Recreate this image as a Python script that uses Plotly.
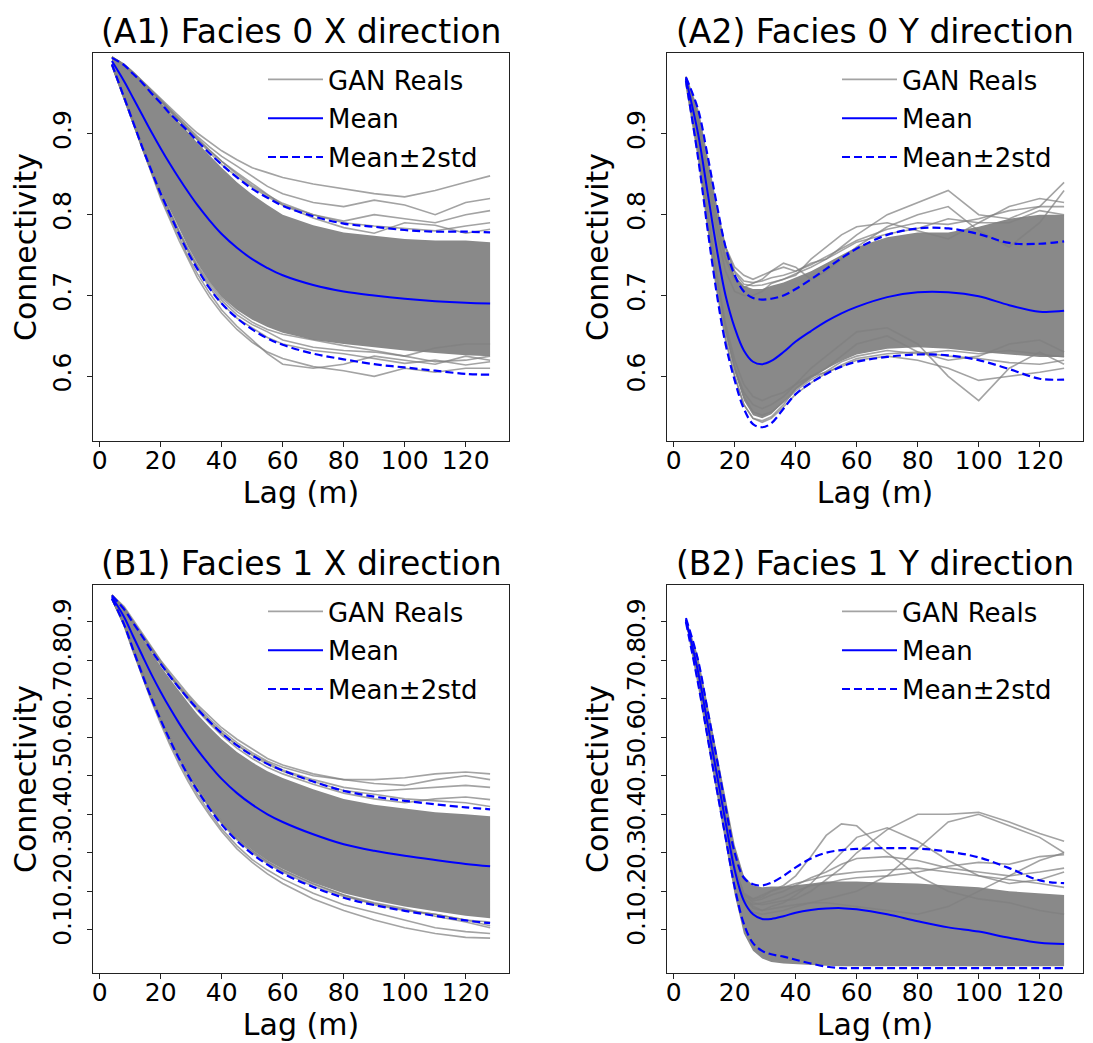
import plotly.graph_objects as go

# ---------------- data ----------------
LAGS = [4, 8, 11, 14, 17, 20, 23, 26, 29, 32, 36, 40, 45, 50, 55, 60, 70, 80, 90, 100, 110, 120, 128]

# (A1) Facies 0, X direction
A1_MEAN = [0.99, 0.965, 0.944, 0.923, 0.902, 0.882, 0.863, 0.845, 0.828, 0.812, 0.793, 0.776, 0.759, 0.745, 0.734, 0.725, 0.713, 0.705, 0.700, 0.696, 0.693, 0.691, 0.690]
A1_UPPER = [0.994, 0.985, 0.974, 0.963, 0.95, 0.938, 0.925, 0.914, 0.903, 0.891, 0.876, 0.862, 0.846, 0.832, 0.821, 0.811, 0.798, 0.789, 0.785, 0.781, 0.779, 0.779, 0.778]
A1_LOWER = [0.986, 0.945, 0.914, 0.883, 0.854, 0.826, 0.801, 0.776, 0.753, 0.733, 0.709, 0.69, 0.672, 0.658, 0.647, 0.639, 0.628, 0.621, 0.615, 0.611, 0.607, 0.603, 0.602]
A1_BAND_HI = [0.995, 0.985, 0.975, 0.963, 0.951, 0.939, 0.926, 0.914, 0.902, 0.889, 0.873, 0.858, 0.84, 0.825, 0.812, 0.80, 0.787, 0.778, 0.774, 0.77, 0.768, 0.768, 0.766]
A1_BAND_LO = [0.985, 0.946, 0.915, 0.885, 0.857, 0.83, 0.806, 0.782, 0.76, 0.74, 0.717, 0.698, 0.682, 0.67, 0.661, 0.654, 0.645, 0.64, 0.636, 0.632, 0.629, 0.626, 0.625]
A1_REALS = [
    [0.995, 0.986, 0.976, 0.965, 0.954, 0.943, 0.932, 0.921, 0.911, 0.901, 0.89, 0.879, 0.868, 0.858, 0.852, 0.846, 0.838, 0.832, 0.826, 0.822, 0.83, 0.84, 0.848],
    [0.995, 0.985, 0.975, 0.964, 0.952, 0.941, 0.93, 0.919, 0.908, 0.897, 0.884, 0.872, 0.86, 0.847, 0.835, 0.826, 0.815, 0.81, 0.818, 0.812, 0.80, 0.815, 0.82],
    [0.994, 0.985, 0.974, 0.963, 0.951, 0.94, 0.928, 0.917, 0.905, 0.893, 0.879, 0.866, 0.852, 0.838, 0.825, 0.812, 0.80, 0.792, 0.80, 0.795, 0.79, 0.80, 0.805],
    [0.985, 0.944, 0.912, 0.88, 0.85, 0.82, 0.794, 0.768, 0.745, 0.722, 0.698, 0.678, 0.658, 0.642, 0.63, 0.622, 0.612, 0.607, 0.60, 0.61, 0.605, 0.61, 0.61],
    [0.985, 0.945, 0.913, 0.882, 0.852, 0.823, 0.797, 0.772, 0.748, 0.727, 0.703, 0.682, 0.662, 0.645, 0.628, 0.615, 0.61, 0.615, 0.625, 0.62, 0.615, 0.625, 0.62],
    [0.986, 0.946, 0.915, 0.885, 0.856, 0.829, 0.804, 0.78, 0.758, 0.738, 0.716, 0.697, 0.68, 0.667, 0.658, 0.652, 0.645, 0.638, 0.632, 0.625, 0.635, 0.64, 0.64],
    [0.995, 0.986, 0.976, 0.965, 0.954, 0.942, 0.93, 0.918, 0.907, 0.895, 0.88, 0.866, 0.85, 0.836, 0.824, 0.814, 0.80, 0.79, 0.786, 0.783, 0.78, 0.786, 0.79],
    [0.995, 0.985, 0.975, 0.964, 0.952, 0.94, 0.928, 0.916, 0.904, 0.892, 0.877, 0.862, 0.847, 0.834, 0.822, 0.812, 0.796, 0.784, 0.777, 0.79, 0.787, 0.777, 0.782],
    [0.985, 0.945, 0.913, 0.882, 0.853, 0.825, 0.80, 0.776, 0.754, 0.734, 0.71, 0.69, 0.672, 0.66, 0.648, 0.64, 0.632, 0.628, 0.622, 0.616, 0.62, 0.614, 0.618],
    [0.985, 0.946, 0.914, 0.884, 0.855, 0.828, 0.803, 0.779, 0.756, 0.736, 0.713, 0.694, 0.676, 0.664, 0.655, 0.645, 0.636, 0.632, 0.63, 0.625, 0.618, 0.62, 0.625],
]

# (A2) Facies 0, Y direction
A2_MEAN = [0.968, 0.90, 0.83, 0.76, 0.70, 0.66, 0.632, 0.618, 0.615, 0.619, 0.63, 0.643, 0.656, 0.668, 0.678, 0.686, 0.698, 0.704, 0.704, 0.699, 0.688, 0.680, 0.681]
A2_UPPER = [0.97, 0.93, 0.875, 0.815, 0.76, 0.725, 0.705, 0.697, 0.695, 0.696, 0.70, 0.708, 0.72, 0.733, 0.746, 0.758, 0.775, 0.783, 0.783, 0.776, 0.765, 0.764, 0.767]
A2_LOWER = [0.966, 0.87, 0.785, 0.705, 0.64, 0.595, 0.56, 0.541, 0.537, 0.542, 0.56, 0.578, 0.592, 0.603, 0.612, 0.618, 0.624, 0.627, 0.626, 0.62, 0.609, 0.597, 0.596]
A2_BAND_HI = [0.972, 0.925, 0.865, 0.805, 0.755, 0.725, 0.712, 0.708, 0.708, 0.712, 0.716, 0.722, 0.73, 0.74, 0.75, 0.76, 0.772, 0.778, 0.778, 0.785, 0.795, 0.80, 0.80]
A2_BAND_LO = [0.962, 0.875, 0.795, 0.72, 0.655, 0.605, 0.57, 0.552, 0.548, 0.553, 0.568, 0.583, 0.597, 0.609, 0.619, 0.627, 0.634, 0.636, 0.634, 0.63, 0.627, 0.624, 0.624]
A2_REALS = [
    [0.97, 0.92, 0.86, 0.80, 0.76, 0.735, 0.725, 0.72, 0.725, 0.73, 0.735, 0.73, 0.74, 0.745, 0.76, 0.775, 0.80, 0.815, 0.83, 0.80, 0.795, 0.81, 0.84],
    [0.97, 0.915, 0.85, 0.79, 0.745, 0.72, 0.71, 0.715, 0.72, 0.73, 0.74, 0.735, 0.72, 0.73, 0.745, 0.76, 0.785, 0.80, 0.81, 0.78, 0.76, 0.79, 0.83],
    [0.968, 0.895, 0.80, 0.72, 0.655, 0.61, 0.58, 0.565, 0.56, 0.565, 0.575, 0.59, 0.61, 0.625, 0.64, 0.655, 0.66, 0.64, 0.60, 0.57, 0.61, 0.63, 0.615],
    [0.966, 0.89, 0.79, 0.71, 0.645, 0.60, 0.565, 0.548, 0.545, 0.55, 0.565, 0.585, 0.60, 0.61, 0.625, 0.64, 0.65, 0.63, 0.62, 0.625, 0.64, 0.645, 0.63],
    [0.97, 0.91, 0.84, 0.78, 0.73, 0.705, 0.70, 0.70, 0.705, 0.715, 0.72, 0.725, 0.745, 0.76, 0.775, 0.785, 0.79, 0.78, 0.77, 0.79, 0.81, 0.82, 0.815],
    [0.967, 0.90, 0.81, 0.73, 0.665, 0.62, 0.59, 0.575, 0.57, 0.575, 0.58, 0.59, 0.60, 0.605, 0.612, 0.62, 0.625, 0.62, 0.61, 0.595, 0.60, 0.605, 0.61],
    [0.971, 0.928, 0.87, 0.81, 0.76, 0.73, 0.718, 0.716, 0.718, 0.722, 0.725, 0.73, 0.738, 0.748, 0.758, 0.768, 0.782, 0.79, 0.788, 0.795, 0.805, 0.81, 0.81],
    [0.97, 0.926, 0.868, 0.808, 0.758, 0.728, 0.714, 0.712, 0.713, 0.716, 0.72, 0.727, 0.735, 0.745, 0.756, 0.766, 0.776, 0.783, 0.795, 0.79, 0.79, 0.805, 0.80],
    [0.962, 0.872, 0.79, 0.712, 0.648, 0.60, 0.565, 0.548, 0.543, 0.548, 0.562, 0.578, 0.592, 0.604, 0.614, 0.622, 0.628, 0.63, 0.625, 0.622, 0.617, 0.615, 0.62],
    [0.963, 0.876, 0.797, 0.722, 0.658, 0.61, 0.575, 0.556, 0.552, 0.556, 0.568, 0.582, 0.596, 0.606, 0.618, 0.625, 0.632, 0.628, 0.632, 0.628, 0.632, 0.628, 0.624],
]

# (B1) Facies 1, X direction
B1_MEAN = [0.965, 0.913, 0.862, 0.812, 0.763, 0.718, 0.676, 0.637, 0.601, 0.568, 0.528, 0.492, 0.455, 0.425, 0.40, 0.38, 0.348, 0.322, 0.305, 0.292, 0.281, 0.271, 0.265]
B1_UPPER = [0.969, 0.933, 0.897, 0.862, 0.825, 0.791, 0.759, 0.729, 0.701, 0.674, 0.641, 0.611, 0.579, 0.553, 0.531, 0.514, 0.485, 0.461, 0.446, 0.435, 0.426, 0.418, 0.413]
B1_LOWER = [0.961, 0.893, 0.827, 0.762, 0.701, 0.645, 0.593, 0.545, 0.501, 0.462, 0.415, 0.373, 0.331, 0.297, 0.269, 0.246, 0.211, 0.183, 0.164, 0.149, 0.136, 0.124, 0.117]
B1_BAND_HI = [0.97, 0.932, 0.895, 0.858, 0.82, 0.785, 0.752, 0.72, 0.69, 0.66, 0.626, 0.595, 0.562, 0.535, 0.512, 0.494, 0.465, 0.44, 0.425, 0.415, 0.405, 0.40, 0.395]
B1_BAND_LO = [0.96, 0.895, 0.83, 0.768, 0.708, 0.652, 0.6, 0.552, 0.508, 0.47, 0.423, 0.382, 0.34, 0.307, 0.28, 0.258, 0.222, 0.195, 0.176, 0.16, 0.148, 0.136, 0.13]
B1_REALS = [
    [0.97, 0.94, 0.905, 0.87, 0.835, 0.80, 0.77, 0.74, 0.712, 0.685, 0.655, 0.625, 0.595, 0.57, 0.545, 0.528, 0.505, 0.49, 0.49, 0.495, 0.505, 0.51, 0.505],
    [0.97, 0.937, 0.90, 0.866, 0.83, 0.796, 0.764, 0.735, 0.706, 0.68, 0.648, 0.618, 0.586, 0.56, 0.538, 0.522, 0.50, 0.49, 0.48, 0.475, 0.49, 0.50, 0.49],
    [0.969, 0.935, 0.9, 0.864, 0.828, 0.793, 0.76, 0.73, 0.70, 0.673, 0.64, 0.61, 0.58, 0.555, 0.535, 0.515, 0.49, 0.47, 0.46, 0.465, 0.47, 0.475, 0.47],
    [0.96, 0.89, 0.822, 0.755, 0.693, 0.635, 0.58, 0.53, 0.485, 0.445, 0.398, 0.355, 0.31, 0.275, 0.245, 0.22, 0.18, 0.15, 0.125, 0.105, 0.09, 0.08, 0.078],
    [0.96, 0.892, 0.825, 0.758, 0.697, 0.64, 0.587, 0.538, 0.493, 0.453, 0.405, 0.362, 0.318, 0.282, 0.255, 0.232, 0.195, 0.165, 0.145, 0.125, 0.105, 0.095, 0.09],
    [0.961, 0.895, 0.83, 0.765, 0.705, 0.648, 0.596, 0.548, 0.505, 0.466, 0.42, 0.38, 0.338, 0.305, 0.278, 0.255, 0.22, 0.19, 0.165, 0.15, 0.14, 0.125, 0.12],
    [0.97, 0.934, 0.898, 0.862, 0.826, 0.792, 0.76, 0.73, 0.702, 0.675, 0.642, 0.612, 0.58, 0.553, 0.53, 0.512, 0.485, 0.462, 0.452, 0.44, 0.435, 0.43, 0.42],
    [0.97, 0.933, 0.897, 0.861, 0.824, 0.79, 0.758, 0.727, 0.698, 0.67, 0.636, 0.605, 0.572, 0.545, 0.522, 0.505, 0.478, 0.455, 0.44, 0.43, 0.44, 0.445, 0.438],
    [0.96, 0.893, 0.828, 0.764, 0.703, 0.646, 0.594, 0.546, 0.502, 0.463, 0.417, 0.376, 0.334, 0.30, 0.272, 0.25, 0.213, 0.186, 0.168, 0.152, 0.14, 0.125, 0.11],
    [0.96, 0.894, 0.829, 0.766, 0.706, 0.65, 0.598, 0.55, 0.506, 0.468, 0.421, 0.38, 0.338, 0.304, 0.276, 0.254, 0.218, 0.19, 0.17, 0.155, 0.135, 0.12, 0.105],
]

# (B2) Facies 1, Y direction
B2_MEAN = [0.905, 0.77, 0.64, 0.51, 0.38, 0.255, 0.175, 0.14, 0.128, 0.128, 0.135, 0.144, 0.151, 0.155, 0.156, 0.153, 0.14, 0.122, 0.106, 0.095, 0.079, 0.066, 0.063]
B2_UPPER = [0.91, 0.80, 0.675, 0.55, 0.42, 0.30, 0.235, 0.218, 0.215, 0.222, 0.24, 0.262, 0.285, 0.30, 0.307, 0.31, 0.312, 0.311, 0.303, 0.288, 0.26, 0.228, 0.221]
B2_LOWER = [0.90, 0.74, 0.605, 0.47, 0.34, 0.21, 0.115, 0.065, 0.045, 0.036, 0.03, 0.022, 0.012, 0.004, 0.0, 0.0, 0.0, 0.0, 0.0, 0.0, 0.0, 0.0, 0.0]
B2_BAND_HI = [0.912, 0.81, 0.69, 0.565, 0.44, 0.32, 0.24, 0.215, 0.21, 0.212, 0.212, 0.215, 0.22, 0.225, 0.225, 0.225, 0.222, 0.22, 0.215, 0.21, 0.20, 0.195, 0.19]
B2_BAND_LO = [0.895, 0.73, 0.59, 0.455, 0.325, 0.19, 0.09, 0.045, 0.025, 0.016, 0.012, 0.01, 0.008, 0.006, 0.005, 0.005, 0.005, 0.005, 0.005, 0.005, 0.005, 0.005, 0.005]
B2_REALS = [
    [0.905, 0.775, 0.645, 0.515, 0.385, 0.26, 0.195, 0.18, 0.19, 0.2, 0.215, 0.24, 0.29, 0.345, 0.375, 0.37, 0.30, 0.24, 0.2, 0.18, 0.17, 0.15, 0.14],
    [0.905, 0.775, 0.645, 0.515, 0.385, 0.26, 0.19, 0.17, 0.165, 0.17, 0.175, 0.18, 0.2, 0.23, 0.26, 0.30, 0.36, 0.40, 0.40, 0.405, 0.38, 0.35, 0.33],
    [0.905, 0.775, 0.645, 0.515, 0.385, 0.26, 0.185, 0.16, 0.15, 0.16, 0.17, 0.19, 0.22, 0.26, 0.30, 0.34, 0.365, 0.33, 0.28, 0.24, 0.22, 0.23, 0.25],
    [0.905, 0.775, 0.645, 0.515, 0.385, 0.255, 0.18, 0.155, 0.15, 0.155, 0.16, 0.165, 0.17, 0.18, 0.19, 0.2, 0.24, 0.31, 0.38, 0.40, 0.37, 0.34, 0.30],
    [0.905, 0.775, 0.645, 0.515, 0.385, 0.255, 0.17, 0.145, 0.14, 0.145, 0.15, 0.16, 0.17, 0.17, 0.165, 0.16, 0.15, 0.14, 0.16, 0.2, 0.24, 0.28, 0.30],
    [0.905, 0.775, 0.645, 0.515, 0.385, 0.26, 0.19, 0.175, 0.18, 0.19, 0.2, 0.215, 0.235, 0.25, 0.27, 0.285, 0.29, 0.28, 0.26, 0.25, 0.24, 0.25, 0.26],
    [0.905, 0.775, 0.645, 0.515, 0.385, 0.255, 0.19, 0.18, 0.185, 0.2, 0.21, 0.22, 0.23, 0.24, 0.245, 0.25, 0.255, 0.26, 0.25, 0.24, 0.23, 0.22, 0.21],
    [0.905, 0.775, 0.645, 0.515, 0.385, 0.255, 0.18, 0.165, 0.17, 0.175, 0.185, 0.2, 0.215, 0.22, 0.23, 0.235, 0.24, 0.25, 0.265, 0.275, 0.27, 0.29, 0.295],
]

TITLES = ["(A1) Facies 0 X direction", "(A2) Facies 0 Y direction",
          "(B1) Facies 1 X direction", "(B2) Facies 1 Y direction"]
A_TICKS = [0.6, 0.7, 0.8, 0.9]
B_TICKS = [0.1, 0.2, 0.3, 0.4, 0.5, 0.6, 0.7, 0.8, 0.9]
X_TICKS = [0, 20, 40, 60, 80, 100, 120]

# ---------------- figure ----------------
W, H = 1093, 1043
FONT = "DejaVu Sans"
GRAY_LINE = "rgba(128,128,128,0.72)"
GRAY_FILL = "rgb(137,137,137)"
BLUE = "#0000ff"

panels = [
    dict(mean=A1_MEAN, up=A1_UPPER, lo=A1_LOWER, bhi=A1_BAND_HI, blo=A1_BAND_LO, reals=A1_REALS,
         box=(85, 501, 45, 433), yr=[0.52, 1.0], ticks=A_TICKS),
    dict(mean=A2_MEAN, up=A2_UPPER, lo=A2_LOWER, bhi=A2_BAND_HI, blo=A2_BAND_LO, reals=A2_REALS,
         box=(659, 1075, 45, 433), yr=[0.52, 1.0], ticks=A_TICKS),
    dict(mean=B1_MEAN, up=B1_UPPER, lo=B1_LOWER, bhi=B1_BAND_HI, blo=B1_BAND_LO, reals=B1_REALS,
         box=(85, 501, 577, 965), yr=[-0.0126, 0.996], ticks=B_TICKS),
    dict(mean=B2_MEAN, up=B2_UPPER, lo=B2_LOWER, bhi=B2_BAND_HI, blo=B2_BAND_LO, reals=B2_REALS,
         box=(659, 1075, 577, 965), yr=[-0.0126, 0.996], ticks=B_TICKS),
]

fig = go.Figure()
layout = dict(
    width=W, height=H, margin=dict(l=0, r=0, t=0, b=0),
    paper_bgcolor="white", plot_bgcolor="white",
    font=dict(family=FONT, color="black"),
    showlegend=True, annotations=[],
)

for i, p in enumerate(panels):
    n = i + 1
    xa = "x" if n == 1 else f"x{n}"
    ya = "y" if n == 1 else f"y{n}"
    leg = "legend" if n == 1 else f"legend{n}"
    x0, x1, y0, y1 = p["box"]

    # dense core of the GAN realizations
    fig.add_trace(go.Scatter(x=LAGS, y=p["blo"], xaxis=xa, yaxis=ya, mode="lines",
                             line=dict(width=0, color=GRAY_FILL), showlegend=False,
                             hoverinfo="skip", legend=leg))
    fig.add_trace(go.Scatter(x=LAGS, y=p["bhi"], xaxis=xa, yaxis=ya, mode="lines",
                             line=dict(width=0, color=GRAY_FILL), fill="tonexty",
                             fillcolor=GRAY_FILL, showlegend=False, hoverinfo="skip", legend=leg))
    # individual realizations
    for k, r in enumerate(p["reals"]):
        fig.add_trace(go.Scatter(x=LAGS, y=r, xaxis=xa, yaxis=ya, mode="lines",
                                 line=dict(color=GRAY_LINE, width=1.6),
                                 name="GAN Reals", legendgroup=f"gan{n}", showlegend=(k == 0),
                                 legend=leg))
    fig.add_trace(go.Scatter(x=LAGS, y=p["mean"], xaxis=xa, yaxis=ya, mode="lines",
                             line=dict(color=BLUE, width=2, shape="spline"),
                             name="Mean", legendgroup=f"mean{n}", legend=leg))
    fig.add_trace(go.Scatter(x=LAGS, y=p["up"], xaxis=xa, yaxis=ya, mode="lines",
                             line=dict(color=BLUE, width=2.2, dash="8px,4px", shape="spline"),
                             name="Mean\u00b12std", legendgroup=f"std{n}", legend=leg))
    fig.add_trace(go.Scatter(x=LAGS, y=p["lo"], xaxis=xa, yaxis=ya, mode="lines",
                             line=dict(color=BLUE, width=2.2, dash="8px,4px", shape="spline"),
                             name="Mean\u00b12std", legendgroup=f"std{n}", showlegend=False,
                             legend=leg))

    xdom = [x0 / W, x1 / W]
    ydom = [1 - y1 / H, 1 - y0 / H]
    axis_common = dict(showline=True, linecolor="#222", linewidth=1.2, mirror=True,
                       showgrid=False, zeroline=False, ticks="outside", ticklen=5,
                       tickwidth=1.2, tickcolor="#222",
                       tickfont=dict(family=FONT, size=25, color="black"))
    layout["xaxis" if n == 1 else f"xaxis{n}"] = dict(
        axis_common, domain=xdom, anchor=ya, range=[-2.2, 134.2],
        tickvals=X_TICKS, ticktext=[str(v) for v in X_TICKS], ticklabelstandoff=-8,
        title=dict(text="Lag (m)", font=dict(family=FONT, size=30), standoff=6))
    layout["yaxis" if n == 1 else f"yaxis{n}"] = dict(
        axis_common, domain=ydom, anchor=xa, range=p["yr"],
        tickvals=p["ticks"], ticktext=[f"{v:.1f}" for v in p["ticks"]], tickangle=-90,
        ticklabelstandoff=6,
        title=dict(text="Connectivity", font=dict(family=FONT, size=30), standoff=4))
    layout[leg] = dict(x=(x1 - 26) / W, xanchor="right", y=1 - (y0 + 3) / H, yanchor="top",
                       bgcolor="rgba(0,0,0,0)", borderwidth=0, tracegroupgap=2,
                       font=dict(family=FONT, size=26, color="black"), itemwidth=55)
    layout["annotations"].append(dict(
        text=TITLES[i], x=(x0 + x1) / 2 / W, y=1 - (y0 - 22) / H, xref="paper", yref="paper",
        xanchor="center", yanchor="middle", showarrow=False,
        font=dict(family=FONT, size=33, color="black")))

fig.update_layout(**layout)
fig.write_html("out.html")
